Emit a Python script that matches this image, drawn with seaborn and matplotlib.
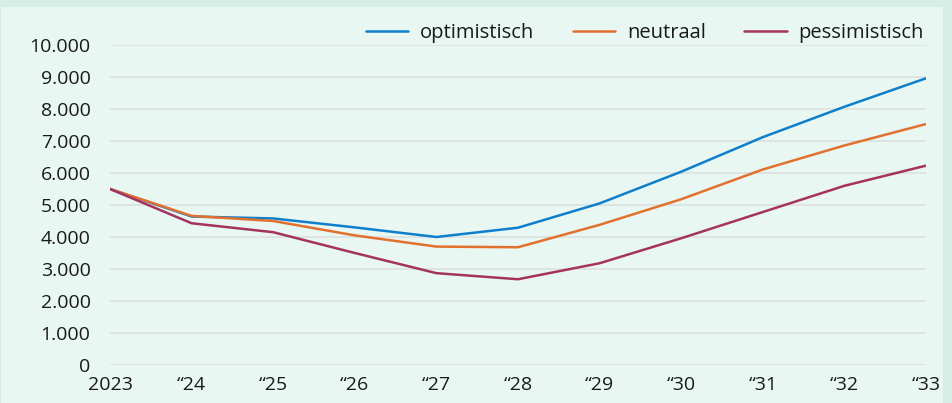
import pandas as pd
import seaborn as sns
import matplotlib.pyplot as plt
from matplotlib.patches import Rectangle
from matplotlib.ticker import FuncFormatter

jaren = [2023, 2024, 2025, 2026, 2027, 2028, 2029, 2030, 2031, 2032, 2033]
jaar_labels = ['2023', '“24', '“25', '“26', '“27', '“28', '“29', '“30', '“31', '“32', '“33']
optimistisch = [5500, 4640, 4580, 4300, 4000, 4290, 5050, 6040, 7120, 8070, 8960]
neutraal = [5500, 4660, 4500, 4050, 3700, 3680, 4380, 5180, 6110, 6860, 7530]
pessimistisch = [5500, 4430, 4150, 3500, 2870, 2680, 3180, 3960, 4780, 5600, 6230]
scenarios = ['optimistisch', 'neutraal', 'pessimistisch']
kleuren = ['#0f7fcc', '#e2702f', '#a5335f']

df = pd.DataFrame({'jaar': jaren * 3,
                   'waarde': optimistisch + neutraal + pessimistisch,
                   'scenario': [s for s in scenarios for _ in jaren]})

sns.set_theme(style="white")
plt.rcParams['font.family'] = ['Open Sans', 'DejaVu Sans']

fig = plt.figure(figsize=(9.52, 4.03), dpi=100, facecolor='#d5efe7')
fig.patches.append(Rectangle((1 / 952, 0), 942 / 952, 396 / 403, transform=fig.transFigure,
                             facecolor='#e8f7f1', edgecolor='none', zorder=-10))
ax = fig.add_axes([110 / 952, 38 / 403, 816 / 952, 320 / 403])
ax.set_facecolor('none')

sns.lineplot(data=df, x='jaar', y='waarde', hue='scenario', hue_order=scenarios,
             palette=kleuren, linewidth=1.8, ax=ax)

ax.set_xlim(2023, 2033)
ax.set_ylim(0, 10000)
ax.set_yticks(range(0, 10001, 1000))
ax.yaxis.set_major_formatter(FuncFormatter(lambda v, p: f"{int(v):,}".replace(',', '.')))
ax.set_xticks(jaren)
ax.set_xticklabels(jaar_labels)
ax.grid(axis='y', color='#dde3e1', linewidth=1.3)
ax.set_axisbelow(True)
for s in ax.spines.values():
    s.set_visible(False)
ax.tick_params(axis='y', length=0, pad=14, labelsize=14, colors='#1a1a1a')
ax.tick_params(axis='x', length=0, pad=8, labelsize=14, colors='#1a1a1a')
ax.set_xlabel('')
ax.set_ylabel('')

leg = ax.legend(loc='lower right', bbox_to_anchor=(1.0, 1.0), ncol=3, frameon=False,
                fontsize=14.5, handlelength=2.1, handletextpad=0.6, columnspacing=1.9,
                borderaxespad=0.0, borderpad=0.1)
for t in leg.get_texts():
    t.set_color('#1a1a1a')

fig.savefig('out.png', dpi=100, facecolor=fig.get_facecolor())
